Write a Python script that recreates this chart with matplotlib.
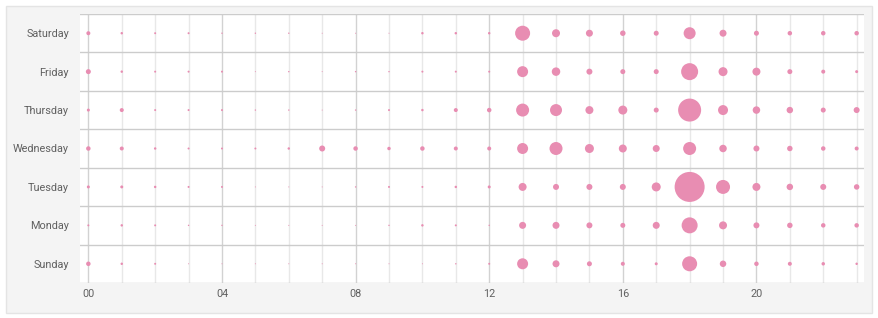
import matplotlib
matplotlib.use("Agg")
import matplotlib.pyplot as plt
from matplotlib.patches import Rectangle
import numpy as np

days = ["Sunday", "Monday", "Tuesday", "Wednesday", "Thursday", "Friday", "Saturday"]
hours = list(range(24))
hour_tick_labels = ["00", "04", "08", "12", "16", "20"]

# activity counts (bubble area proportional to count)
sunday    = [20, 6, 4, 1, 1, 1, 1, 1, 1, 1, 1, 2, 4, 121, 49, 25, 16, 9, 225, 42, 20, 16, 12, 6]
monday    = [4, 6, 4, 2, 2, 1, 1, 1, 1, 2, 6, 4, 2, 49, 49, 36, 25, 49, 256, 64, 36, 30, 20, 20]
tuesday   = [9, 9, 6, 4, 4, 1, 1, 1, 2, 4, 4, 6, 9, 64, 36, 36, 36, 81, 900, 196, 64, 42, 36, 30]
wednesday = [20, 16, 6, 4, 4, 4, 6, 36, 20, 12, 20, 16, 16, 121, 169, 81, 64, 49, 169, 56, 36, 30, 20, 16]
thursday  = [9, 16, 4, 4, 4, 2, 2, 1, 2, 4, 6, 16, 20, 169, 144, 64, 81, 25, 529, 100, 56, 42, 25, 36]
friday    = [25, 6, 4, 4, 4, 1, 2, 1, 2, 2, 4, 4, 4, 121, 72, 36, 25, 25, 289, 81, 64, 25, 16, 9]
saturday  = [16, 6, 4, 4, 2, 2, 2, 1, 1, 1, 6, 6, 6, 225, 64, 49, 30, 25, 144, 49, 25, 20, 20, 20]

rows = [sunday, monday, tuesday, wednesday, thursday, friday, saturday]

W, H, DPI = 879, 318, 100
fig = plt.figure(figsize=(W / DPI, H / DPI), dpi=DPI)
fig.patch.set_facecolor("white")

# grey panel
panel = Rectangle((6 / W, 5 / H), (872 - 6) / W, (312 - 5) / H, transform=fig.transFigure,
                  facecolor="#f4f4f4", edgecolor="#e4e4e4", linewidth=1, zorder=-10)
fig.add_artist(panel)

ax = fig.add_axes([80 / W, 1 - 283 / H, (864 - 80) / W, (283 - 14) / H])
ax.set_zorder(5)
ax.set_facecolor("white")
ax.set_xlim(-0.25, 23.22)
ax.set_ylim(-0.5, 6.5)

# grid lines
for h in hours:
    c = "#d2d2d2" if h % 4 == 0 else "#e8e8e8"
    ax.axvline(h, color=c, lw=1.0, zorder=1)
for b in np.arange(-0.5, 7.0, 1.0):
    ax.axhline(b, color="#cccccc", lw=1.0, zorder=1)

px2pt = 72.0 / DPI
for yi, vals in enumerate(rows):
    v = np.array(vals, dtype=float)
    s = v * px2pt ** 2
    ax.scatter(hours, [yi] * len(hours), s=s, color="#e88db2", linewidths=0, zorder=3)

for sp in ax.spines.values():
    sp.set_visible(False)

ax.set_yticks(range(len(days)))
ax.set_yticklabels(days)
ax.set_xticks([0, 4, 8, 12, 16, 20])
ax.set_xticklabels(hour_tick_labels)
ax.tick_params(axis="both", length=0, labelsize=7.8, colors="#606060")
ax.tick_params(axis="y", pad=8)
ax.tick_params(axis="x", pad=4.5)
for lab in ax.get_xticklabels() + ax.get_yticklabels():
    lab.set_family("Roboto")

fig.savefig("out.png", dpi=DPI, facecolor="white")
